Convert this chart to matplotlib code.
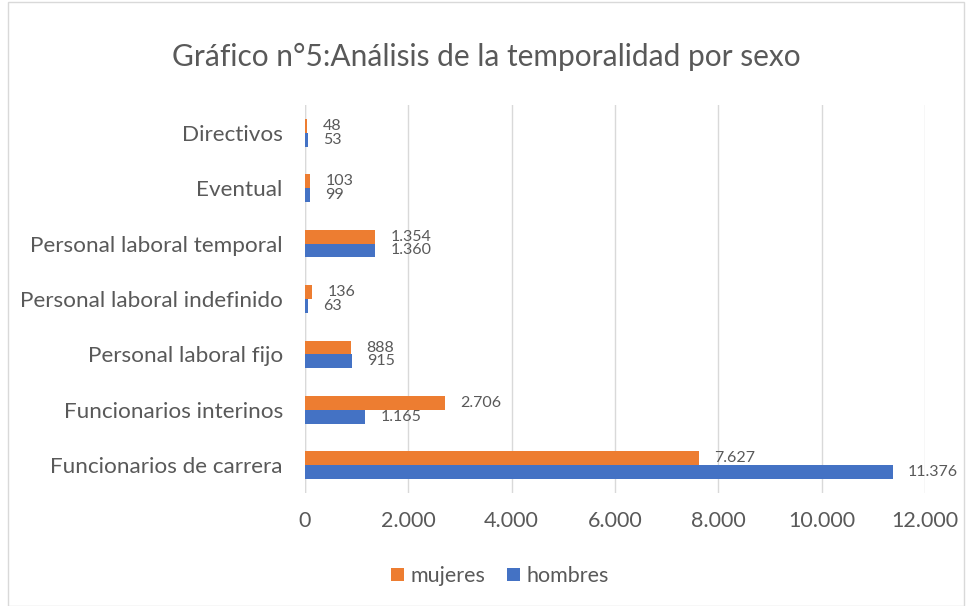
import matplotlib
matplotlib.use("Agg")
import matplotlib.pyplot as plt
from matplotlib.patches import Rectangle
import numpy as np

categories = ["Directivos", "Eventual", "Personal laboral temporal",
              "Personal laboral indefinido", "Personal laboral fijo",
              "Funcionarios interinos", "Funcionarios de carrera"]
mujeres = [48, 103, 1354, 136, 888, 2706, 7627]
hombres = [53, 99, 1360, 63, 915, 1165, 11376]
xticks = [0, 2000, 4000, 6000, 8000, 10000, 12000]

def fmt(v):
    return f"{v:,}".replace(",", ".")

plt.rcParams['font.family'] = ['Lato', 'DejaVu Sans']
txt = "#595959"

fig = plt.figure(figsize=(9.72, 6.06), dpi=100)
fig.patches.append(Rectangle((8/972, 0), 1-16/972, 1-2/606, transform=fig.transFigure,
                             fill=False, edgecolor="#D9D9D9", linewidth=1))
ax = fig.add_axes([305/972, 1-493/606, 620/972, 388/606])

n = len(categories)
y = np.arange(n)
h = 0.25
ax.barh(y - h/2, mujeres, height=h, color="#ED7D31", label="mujeres", zorder=3)
ax.barh(y + h/2, hombres, height=h, color="#4472C4", label="hombres", zorder=3)
ax.set_ylim(n - 0.5, -0.5)
ax.set_xlim(0, 12000)
ax.set_yticks(y)
ax.set_yticklabels(categories, fontsize=16.2, color=txt)
ax.set_xticks(xticks)
ax.set_xticklabels([fmt(v) for v in xticks], fontsize=15.5, color=txt)
ax.tick_params(axis='both', length=0)
ax.tick_params(axis='x', pad=13)
ax.tick_params(axis='y', pad=16)
ax.grid(axis='x', color="#D9D9D9", linewidth=1, zorder=0)
for s in ax.spines.values():
    s.set_visible(False)
ax.axvline(0, color="#D9D9D9", linewidth=1, zorder=1)

for i in range(n):
    ax.annotate(fmt(mujeres[i]), (mujeres[i], y[i] - h/2), xytext=(11, 0),
                textcoords="offset points", va="center", ha="left", fontsize=11.5, color=txt)
    ax.annotate(fmt(hombres[i]), (hombres[i], y[i] + h/2), xytext=(11, 0),
                textcoords="offset points", va="center", ha="left", fontsize=11.5, color=txt)

fig.text(0.5, 1-57/606, "Gráfico n°5:Análisis de la temporalidad por sexo",
         ha="center", va="center", fontsize=21.5, color=txt)

handles, labels = ax.get_legend_handles_labels()
fig.legend(handles, labels, loc="center", bbox_to_anchor=(500/972, 1-576/606), ncol=2,
           frameon=False, fontsize=15.5, labelcolor=txt, handlelength=0.6,
           handleheight=0.6, handletextpad=0.3, columnspacing=1.0)

fig.savefig("out.png", dpi=100, facecolor="white")
